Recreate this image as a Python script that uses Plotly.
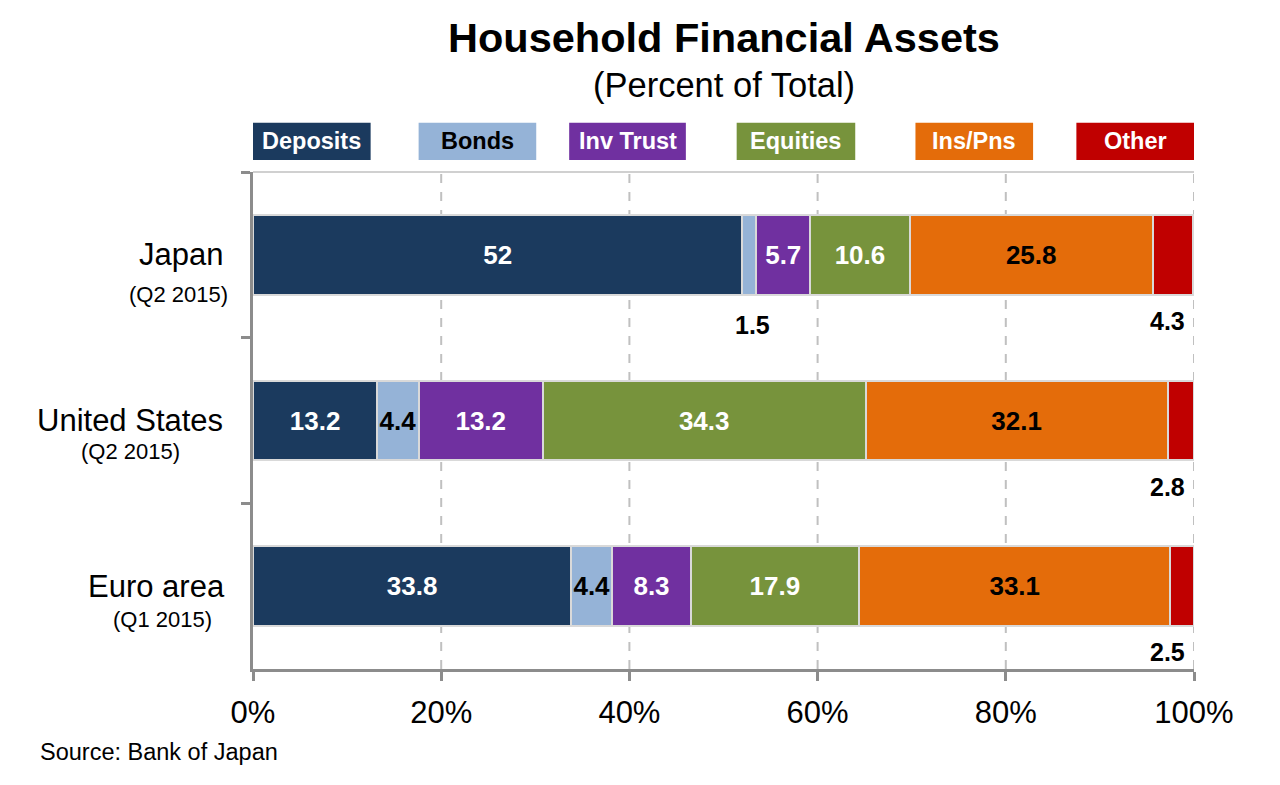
import plotly.graph_objects as go

# data
regions = ["Japan", "United States", "Euro area"]
periods = ["(Q2 2015)", "(Q2 2015)", "(Q1 2015)"]
assets = ["Deposits", "Bonds", "Inv Trust", "Equities", "Ins/Pns", "Other"]
deposits = [52, 13.2, 33.8]
bonds = [1.5, 4.4, 4.4]
inv_trust = [5.7, 13.2, 8.3]
equities = [10.6, 34.3, 17.9]
ins_pns = [25.8, 32.1, 33.1]
other = [4.3, 2.8, 2.5]
x_ticks = [0, 20, 40, 60, 80, 100]
x_tick_labels = ["0%", "20%", "40%", "60%", "80%", "100%"]

series = [deposits, bonds, inv_trust, equities, ins_pns, other]
colors = ["#1b3a5e", "#95b3d7", "#7030a0", "#77933c", "#e46c0a", "#c00000"]
label_colors = ["white", "black", "white", "white", "black", "white"]
legend_text_colors = ["white", "black", "white", "white", "white", "white"]

FONT = "Liberation Sans, Arial, sans-serif"
MIN_INSIDE = 3  # smaller segments get their label under the bar

fig = go.Figure()
for name, vals, col, lcol in zip(assets, series, colors, label_colors):
    txt = [f"{v:g}" if (v >= MIN_INSIDE and name != "Other") else "" for v in vals]
    fig.add_trace(go.Bar(
        y=regions, x=vals, name=name, orientation="h",
        marker=dict(color=col, line=dict(color="#d9d9d9", width=2)),
        width=0.48, text=txt, textposition="inside", insidetextanchor="middle",
        constraintext="none", textangle=0,
        textfont=dict(family=FONT, size=26, color=lcol, weight="bold"),
        hoverinfo="x+name",
    ))

annotations = []
# labels for the thin segments, under the bar
for i, reg in enumerate(regions):
    cum = 0
    for name, vals in zip(assets, series):
        v = vals[i]
        if name == "Other":
            annotations.append(dict(x=100, y=reg, xref="x", yref="y", text=f"{v:g}",
                                    showarrow=False, xanchor="right", xshift=-7, yshift=-66,
                                    font=dict(family=FONT, size=25, color="black", weight="bold")))
        elif v < MIN_INSIDE:
            annotations.append(dict(x=cum + v / 2, y=reg, xref="x", yref="y", text=f"{v:g}",
                                    showarrow=False, xshift=3, yshift=-70,
                                    font=dict(family=FONT, size=25, color="black", weight="bold")))
        cum += v

# category labels, two lines each
name_shift = [-72, -123, -97]
period_shift = [-75, -123, -91]
period_y = [-40, -31, -33]
for reg, per, ns, ps, py in zip(regions, periods, name_shift, period_shift, period_y):
    annotations.append(dict(x=0, y=reg, xref="paper", yref="y", text=reg, showarrow=False,
                            xanchor="center", yanchor="middle", xshift=ns,
                            font=dict(family=FONT, size=31, color="black")))
    annotations.append(dict(x=0, y=reg, xref="paper", yref="y", text=per, showarrow=False,
                            xanchor="center", yanchor="middle", xshift=ps, yshift=py,
                            font=dict(family=FONT, size=22, color="black")))

# legend boxes with the name written inside
legend_boxes = [(0, 12.5), (17.6, 30.1), (33.6, 46.0), (51.4, 64.0), (70.4, 82.9), (87.5, 100)]
shapes = []
for (x0, x1), name, col, tcol in zip(legend_boxes, assets, colors, legend_text_colors):
    shapes.append(dict(type="rect", xref="x", yref="paper", x0=x0, x1=x1, y0=1.0242, y1=1.099,
                       fillcolor=col, line=dict(width=0), layer="above"))
    annotations.append(dict(x=(x0 + x1) / 2, y=1.0616, xref="x", yref="paper", text=name,
                            xanchor="center", yanchor="middle", showarrow=False,
                            font=dict(family=FONT, size=23.5, color=tcol, weight="bold")))

# dashed gridlines and frame
for gx in x_ticks[1:]:
    shapes.append(dict(type="line", xref="x", yref="paper", x0=gx, x1=gx, y0=0, y1=1,
                       line=dict(color="#c0c0c0", width=2, dash="dash"), layer="below"))
shapes.append(dict(type="line", xref="paper", yref="paper", x0=0, x1=1, y0=1, y1=1,
                   line=dict(color="#d0d0d0", width=2), layer="below"))

annotations += [
    dict(x=0.5, y=1.2707, xref="paper", yref="paper", xanchor="center", yanchor="middle",
         text="<b>Household Financial Assets</b>", showarrow=False,
         font=dict(family=FONT, size=41.5, color="black")),
    dict(x=0.5, y=1.1758, xref="paper", yref="paper", xanchor="center", yanchor="middle",
         text="(Percent of Total)", showarrow=False,
         font=dict(family=FONT, size=34.5, color="black")),
    dict(x=0, y=-0.1677, xref="paper", yref="paper", xanchor="left", yanchor="middle", xshift=-215,
         text="Source: Bank of Japan", showarrow=False,
         font=dict(family=FONT, size=23.5, color="black")),
]

# the page body adds 8px around the figure, so margins are set 8px less on top/left
fig.update_layout(
    barmode="stack", width=1280, height=785, showlegend=False,
    plot_bgcolor="white", paper_bgcolor="white",
    margin=dict(l=245, r=94, t=164, b=124),
    font=dict(family=FONT, color="black"),
    shapes=shapes, annotations=annotations,
    xaxis=dict(range=[0, 100], tickvals=x_ticks, ticktext=x_tick_labels,
               tickfont=dict(size=31, color="black"), showgrid=False, zeroline=False,
               showline=True, linecolor="#8c8c8c", linewidth=3, ticklabelstandoff=5,
               ticks="outside", ticklen=9, tickwidth=3, tickcolor="#8c8c8c"),
    yaxis=dict(range=[2.5, -0.5], showticklabels=False, showgrid=False, zeroline=False,
               showline=True, linecolor="#8c8c8c", linewidth=3,
               ticks="outside", tickson="boundaries", ticklen=9, tickwidth=3, tickcolor="#8c8c8c"),
)

fig.write_html("out.html")
